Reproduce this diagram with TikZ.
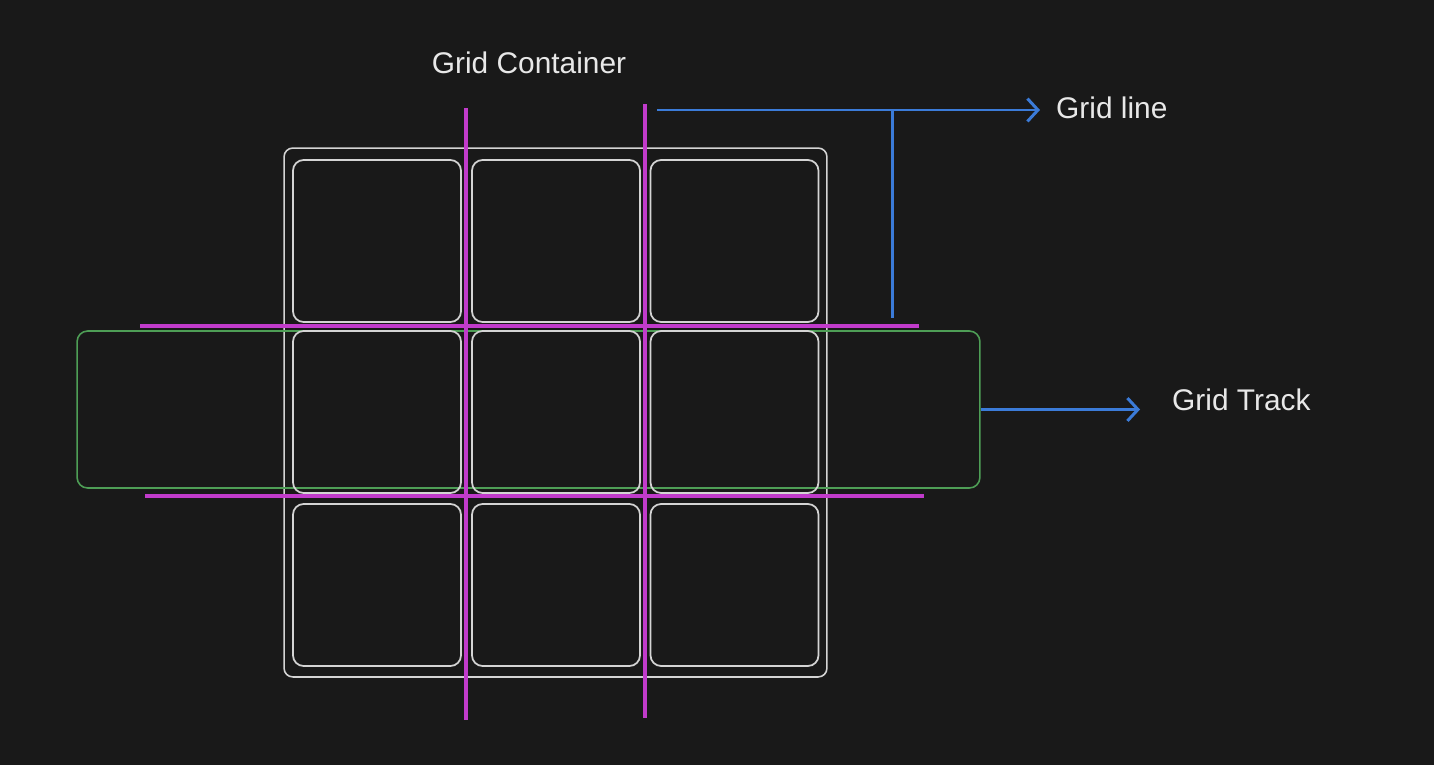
\documentclass[tikz,border=0pt]{standalone}
\usepackage{fontspec}
\setmainfont{Liberation Sans}
\usepackage{tikz}
\usetikzlibrary{arrows.meta}
\usetikzlibrary{calc}
\definecolor{bg}{HTML}{191919}
\definecolor{ink}{HTML}{D4D4D4}
\definecolor{word}{HTML}{E8E8E8}
\definecolor{gline}{HTML}{C13BCB}
\definecolor{gtrack}{HTML}{4E9E56}
\definecolor{pointer}{HTML}{3B7BD8}
\tikzstyle{cell} = [draw=ink,line width=1pt,rounded corners=6pt,minimum width=3.36cm,minimum height=3.24cm]
\tikzstyle{container} = [draw=ink,line width=0.9pt,rounded corners=5pt,minimum width=10.86cm,minimum height=10.58cm]
\tikzstyle{track} = [draw=gtrack,line width=0.9pt,rounded corners=6pt,minimum width=18.06cm,minimum height=3.14cm]
\tikzstyle{divider} = [draw=gline,line width=2.2pt]
\tikzstyle{label} = [text=word,font=\fontsize{17}{20}\selectfont]
\tikzstyle{arrow} = [draw=pointer,line width=1.7pt,-{Straight Barb[length=6pt,width=13pt]}]

\begin{document}
\begin{tikzpicture}[x=0.02cm,y=-0.02cm]

% background and size
    \useasboundingbox[fill=bg] (0,0) rectangle (1434,765);

% container and cells
    \node[container] at (555.5,412.5) (box) {};
    \node[track] at (528.5,409.5) (row) {};
    \foreach \r/\y in {1/241,2/412,3/585} {
        \foreach \c/\x in {1/377,2/556,3/734.5} {
            \node[cell] at (\x,\y) (cell\r\c) {};
        }
    }

% grid lines
    \draw[divider] (466,108) -- (466,720);
    \draw[divider] (645,104) -- (645,718);
    \draw[divider] (140,326) -- (919,326);
    \draw[divider] (145,496) -- (924,496);

% labels
    \node[label] at (529,63) (title) {Grid Container};
    \node[label,anchor=west] at (1050,108) (linelabel) {Grid line};
    \node[label,anchor=west] at (1166,400) (tracklabel) {Grid Track};

    % join up
    \coordinate (start) at (657,110);
    \coordinate (drop) at (892,318);
    \draw[arrow,shorten >=0.2cm] (start) -- (start -| linelabel.west);
    \draw[draw=pointer,line width=1.7pt] (drop |- start) -- (drop);
    \draw[arrow,shorten >=0.52cm] (row.east) -- (row.east -| tracklabel.west);

\end{tikzpicture}
\end{document}
